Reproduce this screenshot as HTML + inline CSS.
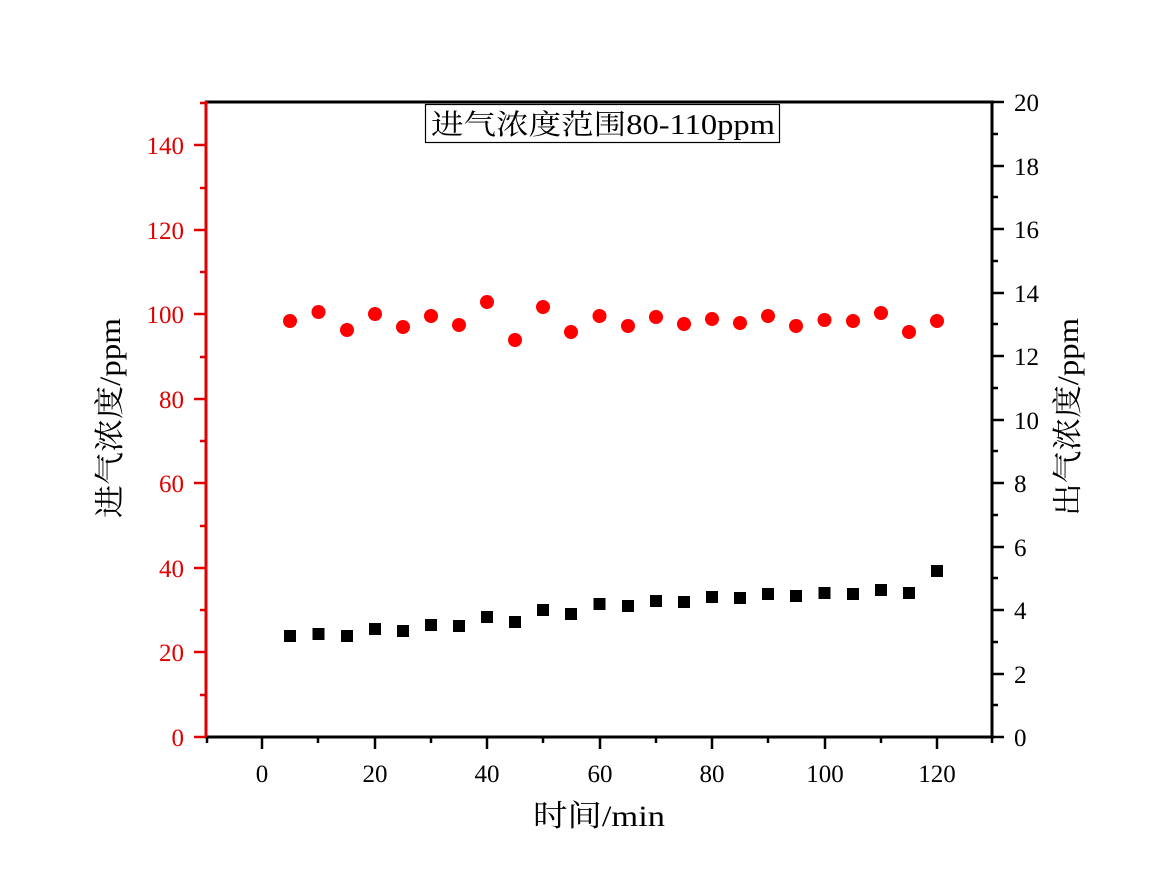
<!DOCTYPE html>
<html><head><meta charset="utf-8"><style>
html,body{margin:0;padding:0;background:#fff;}
svg{display:block;}
text{font-family:"Liberation Serif","Noto Serif CJK SC","Noto Sans CJK SC",serif;}
</style></head><body>
<svg width="1152" height="883" viewBox="0 0 1152 883" xmlns="http://www.w3.org/2000/svg">
<rect width="1152" height="883" fill="#fff"/>
<line x1="205" y1="102" x2="994" y2="102" stroke="#000" stroke-width="3"/>
<line x1="205" y1="737" x2="994" y2="737" stroke="#000" stroke-width="3"/>
<line x1="992" y1="101" x2="992" y2="738" stroke="#000" stroke-width="3"/>
<line x1="206" y1="101" x2="206" y2="738" stroke="#e00000" stroke-width="3"/>
<g stroke="#e00000" stroke-width="2.5">
<line x1="194" y1="737" x2="206" y2="737"/><line x1="200" y1="695" x2="206" y2="695"/>
<line x1="194" y1="652" x2="206" y2="652"/><line x1="200" y1="610" x2="206" y2="610"/>
<line x1="194" y1="568" x2="206" y2="568"/><line x1="200" y1="526" x2="206" y2="526"/>
<line x1="194" y1="483" x2="206" y2="483"/><line x1="200" y1="441" x2="206" y2="441"/>
<line x1="194" y1="399" x2="206" y2="399"/><line x1="200" y1="357" x2="206" y2="357"/>
<line x1="194" y1="314" x2="206" y2="314"/><line x1="200" y1="272" x2="206" y2="272"/>
<line x1="194" y1="230" x2="206" y2="230"/><line x1="200" y1="188" x2="206" y2="188"/>
<line x1="194" y1="145" x2="206" y2="145"/><line x1="200" y1="103" x2="206" y2="103"/>
</g>
<g fill="#e00000" font-size="25" text-anchor="end">
<text x="184" y="746">0</text><text x="184" y="661">20</text><text x="184" y="577">40</text>
<text x="184" y="492">60</text><text x="184" y="408">80</text><text x="184" y="323">100</text>
<text x="184" y="239">120</text><text x="184" y="154">140</text>
</g>
<g stroke="#000" stroke-width="2.5">
<line x1="992" y1="737" x2="1004" y2="737"/><line x1="992" y1="705" x2="998" y2="705"/>
<line x1="992" y1="674" x2="1004" y2="674"/><line x1="992" y1="642" x2="998" y2="642"/>
<line x1="992" y1="610" x2="1004" y2="610"/><line x1="992" y1="578" x2="998" y2="578"/>
<line x1="992" y1="547" x2="1004" y2="547"/><line x1="992" y1="515" x2="998" y2="515"/>
<line x1="992" y1="483" x2="1004" y2="483"/><line x1="992" y1="451" x2="998" y2="451"/>
<line x1="992" y1="420" x2="1004" y2="420"/><line x1="992" y1="388" x2="998" y2="388"/>
<line x1="992" y1="356" x2="1004" y2="356"/><line x1="992" y1="324" x2="998" y2="324"/>
<line x1="992" y1="293" x2="1004" y2="293"/><line x1="992" y1="261" x2="998" y2="261"/>
<line x1="992" y1="229" x2="1004" y2="229"/><line x1="992" y1="197" x2="998" y2="197"/>
<line x1="992" y1="166" x2="1004" y2="166"/><line x1="992" y1="134" x2="998" y2="134"/>
<line x1="992" y1="102" x2="1004" y2="102"/>
</g>
<g fill="#000" font-size="25" text-anchor="start">
<text x="1014" y="746">0</text><text x="1014" y="683">2</text><text x="1014" y="619">4</text>
<text x="1014" y="556">6</text><text x="1014" y="492">8</text><text x="1014" y="429">10</text>
<text x="1014" y="365">12</text><text x="1014" y="302">14</text><text x="1014" y="238">16</text>
<text x="1014" y="175">18</text><text x="1014" y="111">20</text>
</g>
<g stroke="#000" stroke-width="2.5">
<line x1="207" y1="737" x2="207" y2="743"/><line x1="262" y1="737" x2="262" y2="749"/>
<line x1="318" y1="737" x2="318" y2="743"/><line x1="375" y1="737" x2="375" y2="749"/>
<line x1="431" y1="737" x2="431" y2="743"/><line x1="487" y1="737" x2="487" y2="749"/>
<line x1="543" y1="737" x2="543" y2="743"/><line x1="600" y1="737" x2="600" y2="749"/>
<line x1="656" y1="737" x2="656" y2="743"/><line x1="712" y1="737" x2="712" y2="749"/>
<line x1="768" y1="737" x2="768" y2="743"/><line x1="825" y1="737" x2="825" y2="749"/>
<line x1="881" y1="737" x2="881" y2="743"/><line x1="937" y1="737" x2="937" y2="749"/>
<line x1="992" y1="737" x2="992" y2="743"/>
</g>
<g fill="#000" font-size="25" text-anchor="middle">
<text x="262" y="782">0</text><text x="375" y="782">20</text><text x="487" y="782">40</text>
<text x="600" y="782">60</text><text x="712" y="782">80</text><text x="825" y="782">100</text>
<text x="937" y="782">120</text>
</g>
<text x="533" y="826" font-size="30" textLength="132" lengthAdjust="spacingAndGlyphs" fill="#000">时间/min</text>
<text transform="translate(120,518) rotate(-90)" font-size="30" textLength="200" lengthAdjust="spacingAndGlyphs" fill="#000">进气浓度/ppm</text>
<text transform="translate(1078,516) rotate(-90)" font-size="30" textLength="198" lengthAdjust="spacingAndGlyphs" fill="#000">出气浓度/ppm</text>
<rect x="425.5" y="104.5" width="354" height="38" fill="#fff" stroke="#000" stroke-width="1.2"/>
<text x="431" y="134" font-size="28" textLength="344" lengthAdjust="spacingAndGlyphs" fill="#000">进气浓度范围80-110ppm</text>
<g fill="#ff0000">
<circle cx="290" cy="321" r="7"/><circle cx="318.5" cy="312" r="7"/><circle cx="347" cy="330" r="7"/>
<circle cx="375" cy="314" r="7"/><circle cx="403" cy="327" r="7"/><circle cx="431" cy="316" r="7"/>
<circle cx="459" cy="325" r="7"/><circle cx="487" cy="302" r="7"/><circle cx="515" cy="340" r="7"/>
<circle cx="543" cy="307" r="7"/><circle cx="571" cy="332" r="7"/><circle cx="599.5" cy="316" r="7"/>
<circle cx="628" cy="326" r="7"/><circle cx="656" cy="317" r="7"/><circle cx="684" cy="324" r="7"/>
<circle cx="712" cy="319" r="7"/><circle cx="740" cy="323" r="7"/><circle cx="768" cy="316" r="7"/>
<circle cx="796" cy="326" r="7"/><circle cx="824.5" cy="320" r="7"/><circle cx="853" cy="321" r="7"/>
<circle cx="881" cy="313" r="7"/><circle cx="909" cy="332" r="7"/><circle cx="937" cy="321" r="7"/>
</g>
<g fill="#000">
<rect x="284" y="630" width="12" height="12"/><rect x="312.5" y="628" width="12" height="12"/>
<rect x="341" y="630" width="12" height="12"/><rect x="369" y="623" width="12" height="12"/>
<rect x="397" y="625" width="12" height="12"/><rect x="425" y="619" width="12" height="12"/>
<rect x="453" y="620" width="12" height="12"/><rect x="481" y="611" width="12" height="12"/>
<rect x="509" y="616" width="12" height="12"/><rect x="537" y="604" width="12" height="12"/>
<rect x="565" y="608" width="12" height="12"/><rect x="593.5" y="598" width="12" height="12"/>
<rect x="622" y="600" width="12" height="12"/><rect x="650" y="595" width="12" height="12"/>
<rect x="678" y="596" width="12" height="12"/><rect x="706" y="591" width="12" height="12"/>
<rect x="734" y="592" width="12" height="12"/><rect x="762" y="588" width="12" height="12"/>
<rect x="790" y="590" width="12" height="12"/><rect x="818.5" y="587" width="12" height="12"/>
<rect x="847" y="588" width="12" height="12"/><rect x="875" y="584" width="12" height="12"/>
<rect x="903" y="587" width="12" height="12"/><rect x="931" y="565" width="12" height="12"/>
</g>
</svg>
</body></html>
